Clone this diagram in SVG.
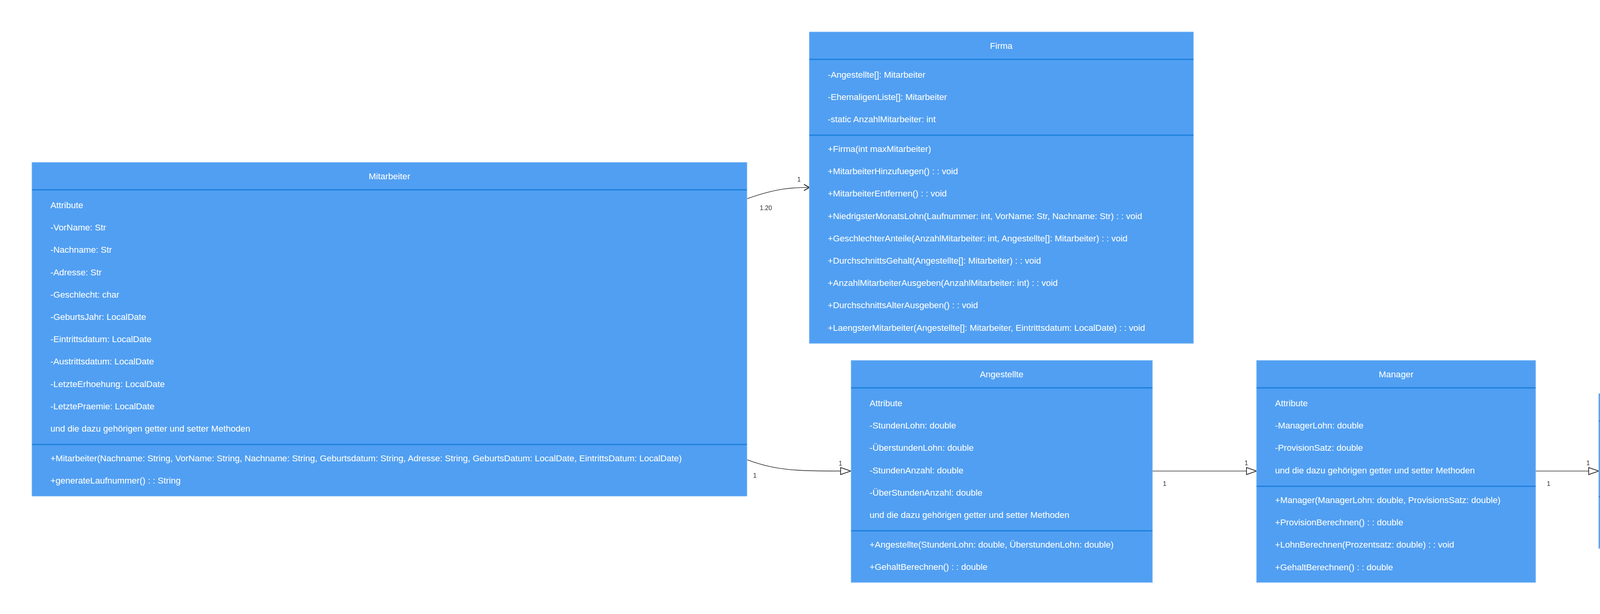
<svg xmlns="http://www.w3.org/2000/svg" width="4827" height="1572" viewBox="0 0 4827 1572">
<style>
.box{fill:#519FF2;stroke:#74B3F6;stroke-width:1.5}
.sep{stroke:#1A7FDA;stroke-width:3}
.t{font-family:"Liberation Sans",Arial,sans-serif;font-size:22.5px;fill:#ffffff}
.title{text-anchor:middle}
.edge{fill:none;stroke:#333333;stroke-width:1.6}
.lbl{font-family:"Liberation Sans",Arial,sans-serif;font-size:16px;fill:#333333}
</style>
<defs>
<marker id="open" markerUnits="userSpaceOnUse" markerWidth="20" markerHeight="22" refX="15" refY="10" orient="auto" viewBox="0 0 20 22">
<path d="M1,2 L15,10 L1,18" fill="none" stroke="#333333" stroke-width="2.5"/>
</marker>
<marker id="tri" markerUnits="userSpaceOnUse" markerWidth="30" markerHeight="22" refX="27" refY="10" orient="auto" viewBox="0 0 30 22">
<path d="M1,1 L27,10 L1,19 Z" fill="#ffffff" stroke="#333333" stroke-width="2"/>
</marker>
</defs>
<rect x="0" y="0" width="4827" height="1572" fill="#ffffff"/>

<g id="connectors">
<path class="edge" d="M1912,509 C1990,481 2030,480 2072,480" marker-end="url(#open)"/>
<text class="lbl" x="1945" y="538">1.20</text>
<text class="lbl" x="2041" y="465">1</text>
<path class="edge" d="M1912,1177 C1990,1205 2030,1206 2178,1206" marker-end="url(#tri)"/>
<text class="lbl" x="1928" y="1223">1</text>
<text class="lbl" x="2147" y="1192">1</text>
<path class="edge" d="M2950,1206 L3217,1206" marker-end="url(#tri)"/>
<text class="lbl" x="2977" y="1244">1</text>
<text class="lbl" x="3186" y="1191">1</text>
<path class="edge" d="M3931,1206 L4093,1206" marker-end="url(#tri)"/>
<text class="lbl" x="3960" y="1244">1</text>
<text class="lbl" x="4061" y="1191">1</text>
</g>

<g id="mitarbeiter">
<rect class="box" x="82" y="416" width="1830" height="854"/>
<line class="sep" x1="82" y1="486" x2="1912" y2="486"/>
<line class="sep" x1="82" y1="1138" x2="1912" y2="1138"/>
<text class="t title" x="997" y="459">Mitarbeiter</text>
<text class="t" x="129" y="533">Attribute</text>
<text class="t" x="129" y="590">-VorName: Str</text>
<text class="t" x="129" y="647">-Nachname: Str</text>
<text class="t" x="129" y="705">-Adresse: Str</text>
<text class="t" x="129" y="762">-Geschlecht: char</text>
<text class="t" x="129" y="819">-GeburtsJahr: LocalDate</text>
<text class="t" x="129" y="876">-Eintrittsdatum: LocalDate</text>
<text class="t" x="129" y="933">-Austrittsdatum: LocalDate</text>
<text class="t" x="129" y="991">-LetzteErhoehung: LocalDate</text>
<text class="t" x="129" y="1048">-LetztePraemie: LocalDate</text>
<text class="t" x="129" y="1105">und die dazu gehörigen getter und setter Methoden</text>
<text class="t" x="129" y="1181">+Mitarbeiter(Nachname: String, VorName: String, Nachname: String, Geburtsdatum: String, Adresse: String, GeburtsDatum: LocalDate, EintrittsDatum: LocalDate)</text>
<text class="t" x="129" y="1238">+generateLaufnummer() : : String</text>
</g>

<g id="firma">
<rect class="box" x="2072" y="82" width="983" height="797"/>
<line class="sep" x1="2072" y1="152" x2="3055" y2="152"/>
<line class="sep" x1="2072" y1="346" x2="3055" y2="346"/>
<text class="t title" x="2563" y="125">Firma</text>
<text class="t" x="2119" y="199">-Angestellte[]: Mitarbeiter</text>
<text class="t" x="2119" y="256">-EhemaligenListe[]: Mitarbeiter</text>
<text class="t" x="2119" y="313">-static AnzahlMitarbeiter: int</text>
<text class="t" x="2119" y="389">+Firma(int maxMitarbeiter)</text>
<text class="t" x="2119" y="446">+MitarbeiterHinzufuegen() : : void</text>
<text class="t" x="2119" y="503">+MitarbeiterEntfernen() : : void</text>
<text class="t" x="2119" y="561">+NiedrigsterMonatsLohn(Laufnummer: int, VorName: Str, Nachname: Str) : : void</text>
<text class="t" x="2119" y="618">+GeschlechterAnteile(AnzahlMitarbeiter: int, Angestellte[]: Mitarbeiter) : : void</text>
<text class="t" x="2119" y="675">+DurchschnittsGehalt(Angestellte[]: Mitarbeiter) : : void</text>
<text class="t" x="2119" y="732">+AnzahlMitarbeiterAusgeben(AnzahlMitarbeiter: int) : : void</text>
<text class="t" x="2119" y="789">+DurchschnittsAlterAusgeben() : : void</text>
<text class="t" x="2119" y="847">+LaengsterMitarbeiter(Angestellte[]: Mitarbeiter, Eintrittsdatum: LocalDate) : : void</text>
</g>

<g id="angestellte">
<rect class="box" x="2179" y="923" width="771" height="568"/>
<line class="sep" x1="2179" y1="993" x2="2950" y2="993"/>
<line class="sep" x1="2179" y1="1359" x2="2950" y2="1359"/>
<text class="t title" x="2564" y="966">Angestellte</text>
<text class="t" x="2226" y="1040">Attribute</text>
<text class="t" x="2226" y="1097">-StundenLohn: double</text>
<text class="t" x="2226" y="1154">-ÜberstundenLohn: double</text>
<text class="t" x="2226" y="1212">-StundenAnzahl: double</text>
<text class="t" x="2226" y="1269">-ÜberStundenAnzahl: double</text>
<text class="t" x="2226" y="1326">und die dazu gehörigen getter und setter Methoden</text>
<text class="t" x="2226" y="1402">+Angestellte(StundenLohn: double, ÜberstundenLohn: double)</text>
<text class="t" x="2226" y="1459">+GehaltBerechnen() : : double</text>
</g>

<g id="manager">
<rect class="box" x="3217" y="923" width="714" height="568"/>
<line class="sep" x1="3217" y1="993" x2="3931" y2="993"/>
<line class="sep" x1="3217" y1="1245" x2="3931" y2="1245"/>
<text class="t title" x="3574" y="966">Manager</text>
<text class="t" x="3264" y="1040">Attribute</text>
<text class="t" x="3264" y="1097">-ManagerLohn: double</text>
<text class="t" x="3264" y="1154">-ProvisionSatz: double</text>
<text class="t" x="3264" y="1212">und die dazu gehörigen getter und setter Methoden</text>
<text class="t" x="3264" y="1288">+Manager(ManagerLohn: double, ProvisionsSatz: double)</text>
<text class="t" x="3264" y="1345">+ProvisionBerechnen() : : double</text>
<text class="t" x="3264" y="1402">+LohnBerechnen(Prozentsatz: double) : : void</text>
<text class="t" x="3264" y="1460">+GehaltBerechnen() : : double</text>
</g>

<g id="geschaeftsfuehrer">
<rect class="box" x="4093" y="1008" width="652" height="396"/>
<line class="sep" x1="4093" y1="1078" x2="4745" y2="1078"/>
<line class="sep" x1="4093" y1="1272" x2="4745" y2="1272"/>
<text class="t title" x="4419" y="1051">Geschäftsführer</text>
<text class="t" x="4140" y="1125">Attribute</text>
<text class="t" x="4140" y="1182">-GeschäftsführerZulage: double</text>
<text class="t" x="4140" y="1239">und die dazu gehörigen getter und setter Methoden</text>
<text class="t" x="4140" y="1315">+Geschäftsführer(GeschäftsführerZulage: double)</text>
<text class="t" x="4140" y="1372">+GehaltBerechnen() : : double</text>
</g>
</svg>
